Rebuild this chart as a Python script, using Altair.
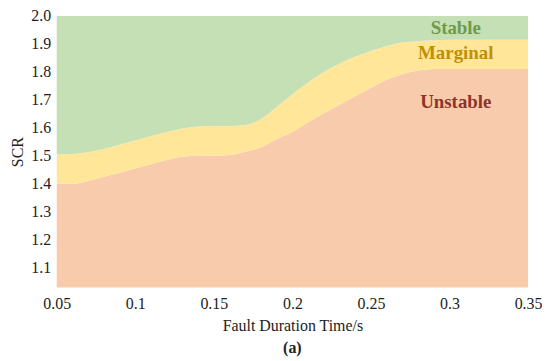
import altair as alt
import pandas as pd

# Fault duration time (s)
fault_time = [0.05, 0.06, 0.07, 0.08, 0.09, 0.10, 0.11, 0.12, 0.13, 0.14, 0.15, 0.16,
              0.17, 0.18, 0.19, 0.20, 0.21, 0.22, 0.23, 0.24, 0.25, 0.26, 0.27, 0.28,
              0.29, 0.30, 0.31, 0.32, 0.33, 0.34, 0.35]
# Boundary between Unstable and Marginal regions (SCR)
lower_scr = [1.40, 1.40, 1.41, 1.425, 1.44, 1.455, 1.47, 1.485, 1.497, 1.50, 1.50, 1.503,
             1.515, 1.53, 1.56, 1.585, 1.62, 1.652, 1.683, 1.713, 1.743, 1.772, 1.792, 1.805,
             1.81, 1.81, 1.81, 1.81, 1.81, 1.81, 1.81]
# Boundary between Marginal and Stable regions (SCR)
upper_scr = [1.505, 1.507, 1.513, 1.525, 1.54, 1.555, 1.57, 1.585, 1.598, 1.605, 1.607, 1.607,
             1.61, 1.632, 1.675, 1.72, 1.762, 1.80, 1.83, 1.855, 1.875, 1.893, 1.905, 1.91,
             1.913, 1.915, 1.915, 1.915, 1.915, 1.915, 1.915]

region_names = ["Stable", "Marginal", "Unstable"]
region_label_x = [0.304, 0.304, 0.304]
region_label_y = [1.956, 1.868, 1.692]
region_fill = ["#c5e0b4", "#ffe699", "#f8cbad"]
region_text = ["#6f9a4a", "#c09000", "#8e3428"]

x_ticks = [0.05, 0.1, 0.15, 0.2, 0.25, 0.3, 0.35]
y_ticks = [1.1, 1.2, 1.3, 1.4, 1.5, 1.6, 1.7, 1.8, 1.9, 2.0]

Y_MIN, Y_MAX = 1.03, 2.0
W, H = 474, 273
SERIF = "Liberation Serif"

df = pd.DataFrame({"t": fault_time, "lower": lower_scr, "upper": upper_scr})
df["bottom"] = Y_MIN
df["top"] = Y_MAX
labels = pd.DataFrame({"t": region_label_x, "lower": region_label_y, "name": region_names,
                       "color": region_text})

xs = alt.Scale(domain=[0.05, 0.35], nice=False, zero=False)
ys = alt.Scale(domain=[Y_MIN, Y_MAX], nice=False, zero=False)

x_axis = alt.Axis(values=x_ticks, format="~g", grid=False, ticks=False, domain=False,
                  labelPadding=8, titlePadding=6, labelFont=SERIF, labelFontSize=16,
                  titleFont=SERIF, titleFontSize=16, titleFontWeight="normal",
                  labelColor="#222", titleColor="#222", labelFlush=False, labelOverlap=False)
y_axis = alt.Axis(values=y_ticks, format=".1f", grid=False, ticks=False, domain=False,
                  labelPadding=6, titlePadding=5, labelFont=SERIF, labelFontSize=16,
                  titleFont=SERIF, titleFontSize=16, titleFontWeight="normal",
                  labelColor="#222", titleColor="#222", labelOverlap=False, labelFlush=False)

X_TITLE = "Fault Duration Time/s"
Y_TITLE = "SCR"

def xenc():
    return alt.X("t:Q", scale=xs, axis=x_axis, title=X_TITLE)

def yenc(field):
    return alt.Y(field, scale=ys, axis=y_axis, title=Y_TITLE)

base = alt.Chart(df)

unstable = base.mark_area(interpolate="monotone", color=region_fill[2]).encode(
    x=xenc(), y=yenc("lower:Q"), y2="bottom:Q",
)

marginal = base.mark_area(interpolate="monotone", color=region_fill[1]).encode(
    x=xenc(), y=yenc("upper:Q"), y2="lower:Q",
)

stable = base.mark_area(interpolate="monotone", color=region_fill[0]).encode(
    x=xenc(), y=yenc("top:Q"), y2="upper:Q",
)

text = alt.Chart(labels).mark_text(font=SERIF, fontSize=19, fontWeight="bold").encode(
    x=xenc(), y=yenc("lower:Q"),
    text="name:N",
    color=alt.Color("color:N", scale=None),
)

chart = alt.layer(unstable, marginal, stable, text).properties(
    width=W, height=H,
    autosize=alt.AutoSizeParams(type="none"),
    padding={"left": 49, "top": 7, "right": 14, "bottom": 70},
    title=alt.TitleParams("(a)", orient="bottom", anchor="middle", font=SERIF, fontSize=16,
                          fontWeight="bold", color="#222", offset=7),
).configure_view(stroke=None).configure_axis(labelOverlap=False)

chart.save("out.html", embed_options={"renderer": "svg", "actions": False})
